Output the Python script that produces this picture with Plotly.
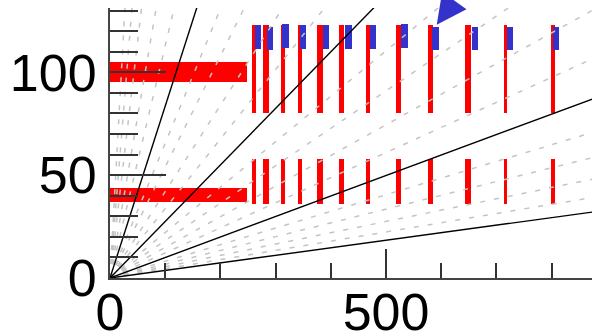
import plotly.graph_objects as go

# Segment positions along x (units) and their drawn widths (units)
seg_x = [260.5, 283.0, 313.4, 343.5, 379.9, 419.7, 467.4, 522.3, 580.6, 648.6, 717.0, 802.2]
seg_w = [7.8, 10.3, 7.2, 7.2, 10.9, 8.5, 7.2, 8.5, 7.8, 10.9, 5.4, 7.8]
upper_lo, upper_hi = 80.0, 122.8
lower_lo, lower_hi = 36.0, 58.0

# Continuous bands at the left
band_y = [100.2, 40.4]
band_len = [248.0, 247.6]
band_thick = [10.1, 6.5]

# Blue markers beside the upper segments
blue_x = [268.0, 290.0, 318.3, 349.6, 391.3, 431.7, 475.9, 533.2, 590.0, 660.7, 724.6, 807.4]
blue_lo = [111.6, 111.0, 112.0, 111.6, 111.6, 111.6, 111.6, 112.0, 111.0, 111.0, 111.0, 111.0]
blue_hi = [122.8, 121.9, 123.3, 122.8, 122.8, 122.8, 122.8, 123.3, 121.9, 121.9, 121.9, 121.9]
blue_w = 11.8

# Rays through the origin: solid reference slopes and dashed intermediate slopes
solid_slopes = [0.0367, 0.0996, 0.275, 0.836]
dashed_slopes = [0.0448, 0.055, 0.067, 0.081, 0.122, 0.149, 0.182, 0.221,
                 0.338, 0.42, 0.54, 0.655, 1.13, 1.57, 2.3, 3.3, 4.85]

# Pointer target
arrow_x, arrow_y = 591.8, 123.1

X_MAX, Y_MAX = 873.0, 131.3
RED = "#ff0000"
BLUE = "#3333cc"

fig = go.Figure()

# horizontal bands
fig.add_trace(go.Bar(
    orientation="h", y=band_y, x=band_len, base=[0, 0], width=band_thick,
    marker=dict(color=RED, line=dict(width=0)), showlegend=False, hoverinfo="skip"))

# vertical segments, upper and lower groups
fig.add_trace(go.Bar(
    x=seg_x, y=[upper_hi - upper_lo] * len(seg_x), base=[upper_lo] * len(seg_x),
    width=seg_w, marker=dict(color=RED, line=dict(width=0)),
    showlegend=False, hoverinfo="skip"))
fig.add_trace(go.Bar(
    x=seg_x, y=[lower_hi - lower_lo] * len(seg_x), base=[lower_lo] * len(seg_x),
    width=seg_w, marker=dict(color=RED, line=dict(width=0)),
    showlegend=False, hoverinfo="skip"))

# blue markers
fig.add_trace(go.Bar(
    x=blue_x, y=[h - l for h, l in zip(blue_hi, blue_lo)], base=blue_lo,
    width=[blue_w] * len(blue_x), marker=dict(color=BLUE, line=dict(width=0)),
    showlegend=False, hoverinfo="skip"))

# dashed rays
for s in dashed_slopes:
    fig.add_trace(go.Scatter(
        x=[0, 1000], y=[0, s * 1000], mode="lines",
        line=dict(color="#c4c4c4", width=1.5, dash="5px,9px"),
        showlegend=False, hoverinfo="skip"))

# solid rays
for s in solid_slopes:
    fig.add_trace(go.Scatter(
        x=[0, 1000], y=[0, s * 1000], mode="lines",
        line=dict(color="black", width=1.4),
        showlegend=False, hoverinfo="skip"))

fig.add_annotation(
    x=arrow_x, y=arrow_y, text="", showarrow=True,
    arrowhead=2, arrowsize=2.0, arrowwidth=3, arrowcolor=BLUE,
    ax=18, ay=-60, standoff=0)

axis_font = dict(family="Liberation Sans, Arial, sans-serif", size=52, color="black")

fig.update_layout(
    width=592, height=336,
    margin=dict(l=110, r=0, t=8, b=58, autoexpand=False),
    paper_bgcolor="white", plot_bgcolor="white",
    barmode="overlay", bargap=0,
    xaxis=dict(
        range=[0, X_MAX], showgrid=False, zeroline=False, automargin=False,
        showline=True, linecolor="#444444", linewidth=2,
        ticks="inside", ticklen=29, tickwidth=1.5, tickcolor="#333333",
        tick0=0, dtick=500, tickfont=axis_font, ticklabelstandoff=-12,
        minor=dict(ticks="inside", dtick=100, ticklen=15, tickwidth=1.5, tickcolor="#333333"),
    ),
    yaxis=dict(
        range=[0, Y_MAX], showgrid=False, zeroline=False, automargin=False,
        showline=True, linecolor="#444444", linewidth=2,
        ticks="inside", ticklen=56, tickwidth=1.5, tickcolor="#333333",
        tick0=0, dtick=50, tickfont=axis_font, ticklabelstandoff=1,
        minor=dict(ticks="inside", dtick=10, ticklen=28, tickwidth=1.5, tickcolor="#333333"),
    ),
)

fig.write_html("out.html")
